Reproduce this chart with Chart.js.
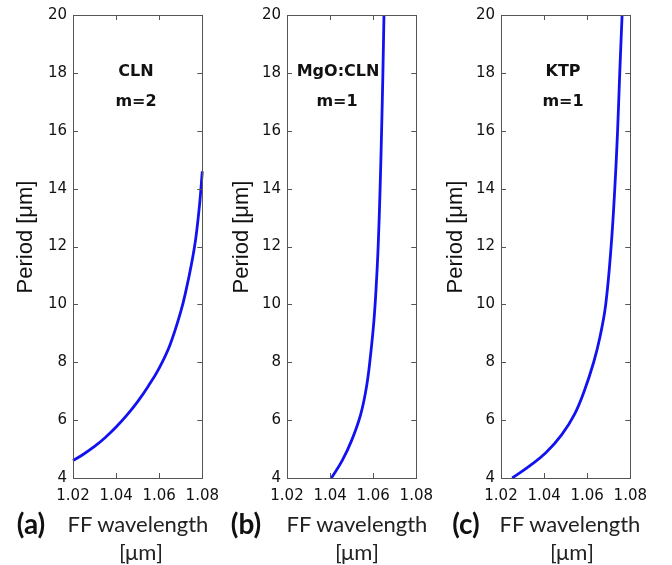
<!DOCTYPE html>
<html>
<head>
<meta charset="utf-8">
<script src="https://cdn.jsdelivr.net/npm/chart.js@4.4.1/dist/chart.umd.min.js"></script>
<style>
  html, body { margin:0; padding:0; background:#fff; }
  body { width:672px; height:565px; position:relative; overflow:hidden; }
  canvas { position:absolute; top:0; }
  .lbl { position:absolute; transform:translate(-50%,-50%); white-space:nowrap; line-height:1; color:#111; }
  .ann { font-family:"DejaVu Sans"; font-weight:bold; font-size:16px; }
  .ytitle { font-family:"Liberation Sans"; font-size:22px; transform:translate(-50%,-50%) rotate(-90deg); }
  .xtitle { font-family:"Lato"; font-size:22px; color:#222; }
  .plabel { font-family:"Lato"; font-weight:bold; font-size:28px; color:#111; }
</style>
</head>
<body>
<canvas id="ca" width="228" height="565" style="left:0px"></canvas>
<canvas id="cb" width="228" height="565" style="left:214px"></canvas>
<canvas id="cc" width="228" height="565" style="left:428px"></canvas>

<div class="lbl ann" style="left:136px;top:71px">CLN</div>
<div class="lbl ann" style="left:136px;top:101px">m=2</div>
<div class="lbl ann" style="left:338px;top:71px">MgO:CLN</div>
<div class="lbl ann" style="left:337px;top:101px">m=1</div>
<div class="lbl ann" style="left:563px;top:71px">KTP</div>
<div class="lbl ann" style="left:563px;top:101px">m=1</div>

<div class="lbl ytitle" style="left:25px;top:237px">Period [μm]</div>
<div class="lbl ytitle" style="left:241px;top:237px">Period [μm]</div>
<div class="lbl ytitle" style="left:455px;top:237px">Period [μm]</div>

<div class="lbl plabel" style="left:31px;top:523px">(a)</div>
<div class="lbl plabel" style="left:246px;top:523px">(b)</div>
<div class="lbl plabel" style="left:466px;top:523px">(c)</div>

<div class="lbl xtitle" style="left:138px;top:524px">FF wavelength</div>
<div class="lbl xtitle" style="left:141px;top:552px">[μm]</div>
<div class="lbl xtitle" style="left:357px;top:524px">FF wavelength</div>
<div class="lbl xtitle" style="left:357px;top:552px">[μm]</div>
<div class="lbl xtitle" style="left:570px;top:524px">FF wavelength</div>
<div class="lbl xtitle" style="left:572px;top:552px">[μm]</div>

<script>
// ---- data ----
const xTicks = [1.02, 1.04, 1.06, 1.08];
const yTicks = [4, 6, 8, 10, 12, 14, 16, 18, 20];

// (a) CLN, m=2
const wlA     = [1.020, 1.025, 1.030, 1.035, 1.040, 1.045, 1.050, 1.055, 1.060, 1.065, 1.070, 1.0725, 1.075, 1.077, 1.0788, 1.080];
const periodA = [4.60,  4.83,  5.09,  5.40,  5.76,  6.17,  6.64,  7.18,  7.80,  8.60,  9.75,  10.5,   11.4,  12.3,  13.5,   14.6];

// (b) MgO:CLN, m=1
const wlB     = [1.0406, 1.0456, 1.0500, 1.0542, 1.0570, 1.0590, 1.0603, 1.0613, 1.0623, 1.0632, 1.0639, 1.0645, 1.0650];
const periodB = [4.0,    4.6,    5.3,    6.2,    7.2,    8.4,    9.4,    10.5,   12.0,   14.0,   16.0,   18.0,   20.0];

// (c) KTP, m=1
const wlC     = [1.0252, 1.0333, 1.0408, 1.0482, 1.0541, 1.0586, 1.0630, 1.0660, 1.0686, 1.0711, 1.0728, 1.0741, 1.0751, 1.0762];
const periodC = [4.0,    4.42,   4.87,   5.5,    6.2,    7.0,    8.0,    8.9,    10.0,   12.0,   14.0,   16.0,   18.0,   20.0];

const LINE_COLOR = 'rgb(18,18,240)';
const FRAME_COLOR = '#555';

const framePlugin = {
  id: 'frame',
  afterDraw(chart) {
    const {ctx, chartArea: {left, right, top, bottom}, scales: {x, y}} = chart;
    ctx.save();
    ctx.strokeStyle = FRAME_COLOR;
    ctx.lineWidth = 1;
    ctx.strokeRect(Math.round(left) + 0.5, Math.round(top) + 0.5, Math.round(right - left), Math.round(bottom - top));
    const L = 5;
    ctx.beginPath();
    y.ticks.forEach(t => {
      const py = Math.round(y.getPixelForValue(t.value)) + 0.5;
      ctx.moveTo(left, py); ctx.lineTo(left + L, py);
      ctx.moveTo(right - L, py); ctx.lineTo(right, py);
    });
    x.ticks.forEach(t => {
      const px = Math.round(x.getPixelForValue(t.value)) + 0.5;
      ctx.moveTo(px, top); ctx.lineTo(px, top + L);
      ctx.moveTo(px, bottom - L); ctx.lineTo(px, bottom);
    });
    ctx.stroke();
    ctx.restore();
  }
};

function makeChart(id, wl, period) {
  const data = wl.map((v, i) => ({x: v, y: period[i]}));
  return new Chart(document.getElementById(id), {
    type: 'line',
    data: {
      datasets: [{
        data: data,
        borderColor: LINE_COLOR,
        borderWidth: 2.8,
        pointRadius: 0,
        fill: false,
        tension: 0.4,
        clip: 2
      }]
    },
    options: {
      responsive: false,
      animation: false,
      devicePixelRatio: 1,
      layout: { padding: { top: 11, right: 20, left: 0, bottom: 0 } },
      plugins: { legend: { display: false }, tooltip: { enabled: false } },
      scales: {
        x: {
          type: 'linear',
          min: 1.02, max: 1.08,
          afterBuildTicks: s => { s.ticks = xTicks.map(v => ({value: v})); },
          afterFit: s => { s.height = 87; },
          grid: { display: false, drawTicks: false },
          border: { display: false },
          ticks: {
            color: '#111',
            font: { family: 'DejaVu Sans', size: 15 },
            padding: 9,
            maxRotation: 0,
            autoSkip: false,
            callback: v => v.toFixed(2)
          }
        },
        y: {
          type: 'linear',
          min: 4, max: 20,
          afterBuildTicks: s => { s.ticks = yTicks.map(v => ({value: v})); },
          afterFit: s => { s.width = 73; },
          grid: { display: false, drawTicks: false },
          border: { display: false },
          ticks: {
            color: '#111',
            font: { family: 'DejaVu Sans', size: 15 },
            padding: 6,
            autoSkip: false,
            callback: v => String(v)
          }
        }
      }
    },
    plugins: [framePlugin]
  });
}

makeChart('ca', wlA, periodA);
makeChart('cb', wlB, periodB);
makeChart('cc', wlC, periodC);
</script>
</body>
</html>
